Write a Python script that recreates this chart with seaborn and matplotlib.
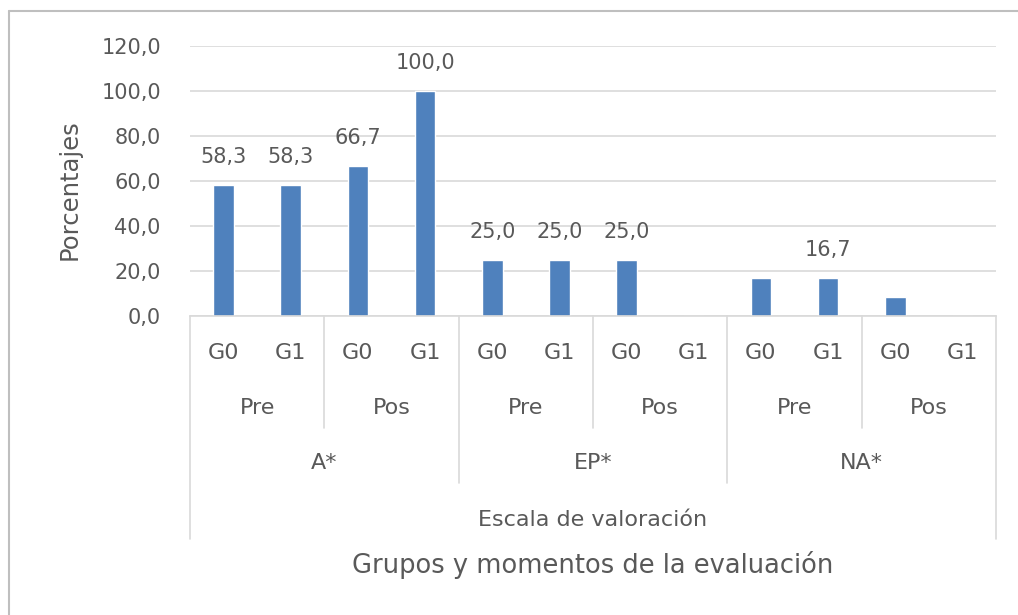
import matplotlib
matplotlib.use("Agg")
import matplotlib.pyplot as plt
from matplotlib.lines import Line2D
from matplotlib.transforms import blended_transform_factory
import seaborn as sns
import pandas as pd

# Rating scale levels, evaluation moments and groups
escalas = ["A*", "EP*", "NA*"]
momentos = ["Pre", "Pos"]
grupos = ["G0", "G1"]

# Percentages in order: escala -> momento -> grupo
porcentajes = [58.3, 58.3, 66.7, 100.0,
               25.0, 25.0, 25.0, 0.0,
               16.7, 16.7, 8.3, 0.0]

# Data labels shown above the bars (None = no label)
etiquetas = [58.3, 58.3, 66.7, 100.0,
             25.0, 25.0, 25.0, None,
             None, 16.7, None, None]

yticks = [0, 20, 40, 60, 80, 100, 120]

BLUE = "#4F81BD"
TEXT = "#595959"
GRID = "#D9D9D9"
BORDER = "#BFBFBF"

claves = [f"{e}|{m}|{g}" for e in escalas for m in momentos for g in grupos]
df = pd.DataFrame({"clave": claves, "valor": porcentajes})

sns.set_theme(style="white")
plt.rcParams["font.family"] = ["DejaVu Sans"]

W, H = 1018, 615
fig = plt.figure(figsize=(W / 100, H / 100), dpi=100)
ax = fig.add_axes([190 / W, 1 - 316 / H, (996 - 190) / W, (316 - 46) / H])

sns.barplot(data=df, x="clave", y="valor", order=claves, color=BLUE,
            saturation=1, width=0.31, ax=ax)

ax.set_ylim(0, 120)
ax.set_xlim(-0.5, len(claves) - 0.5)
ax.set_yticks(yticks)
ax.set_yticklabels([f"{t:.1f}".replace(".", ",") for t in yticks],
                   fontsize=15, color=TEXT)
ax.tick_params(axis="y", length=0, pad=21)
ax.set_xticks([])
ax.set_xlabel("")
ax.set_ylabel("")
ax.yaxis.grid(True, color=GRID, linewidth=1.2)
ax.set_axisbelow(True)
for s in ["top", "right", "left"]:
    ax.spines[s].set_visible(False)
ax.spines["bottom"].set_color(GRID)
ax.spines["bottom"].set_linewidth(1.2)

# Value labels
for i, v in enumerate(etiquetas):
    if v is None:
        continue
    ax.annotate(f"{v:.1f}".replace(".", ","), xy=(i, porcentajes[i]),
                xytext=(0, 16), textcoords="offset points",
                ha="center", va="baseline", fontsize=15, color=TEXT)

# Multi-level category axis
tr = blended_transform_factory(ax.transData, ax.transAxes)
px = (316 - 46)


def ay(ypix):
    return -(ypix - 316) / px


n = len(claves)
for i, g in enumerate([g for _ in escalas for _ in momentos for g in grupos]):
    ax.text(i, ay(353), g, transform=tr, ha="center", va="center",
            fontsize=16, color=TEXT)
k = 0
for e in escalas:
    for m in momentos:
        ax.text(k + 0.5, ay(408), m, transform=tr, ha="center", va="center",
                fontsize=16, color=TEXT)
        k += 2
for j, e in enumerate(escalas):
    ax.text(j * 4 + 1.5, ay(463), e, transform=tr, ha="center", va="center",
            fontsize=16, color=TEXT)
ax.text((n - 1) / 2, ay(520), "Escala de valoración", transform=tr,
        ha="center", va="center", fontsize=16, color=TEXT)
ax.text((n - 1) / 2, ay(565), "Grupos y momentos de la evaluación",
        transform=tr, ha="center", va="center", fontsize=18.5, color=TEXT)

# Separators between the category levels
for xb in [1.5, 5.5, 9.5]:
    ax.add_line(Line2D([xb, xb], [0, ay(428)], transform=tr, color=GRID,
                       linewidth=1.2, clip_on=False))
for xb in [3.5, 7.5]:
    ax.add_line(Line2D([xb, xb], [0, ay(483)], transform=tr, color=GRID,
                       linewidth=1.2, clip_on=False))
for xb in [-0.5, n - 0.5]:
    ax.add_line(Line2D([xb, xb], [0, ay(539)], transform=tr, color=GRID,
                       linewidth=1.2, clip_on=False))

# Axis title
fig.text(70 / W, 1 - 190 / H, "Porcentajes", rotation=90, ha="center",
         va="center", fontsize=17.5, color=TEXT)

# Chart area border (top and left edges)
fig.add_artist(Line2D([9 / W, 1.0], [1 - 11 / H, 1 - 11 / H],
                      transform=fig.transFigure, color=BORDER, linewidth=1.5))
fig.add_artist(Line2D([9 / W, 9 / W], [0.0, 1 - 11 / H],
                      transform=fig.transFigure, color=BORDER, linewidth=1.5))

fig.savefig("out.png", dpi=100)
